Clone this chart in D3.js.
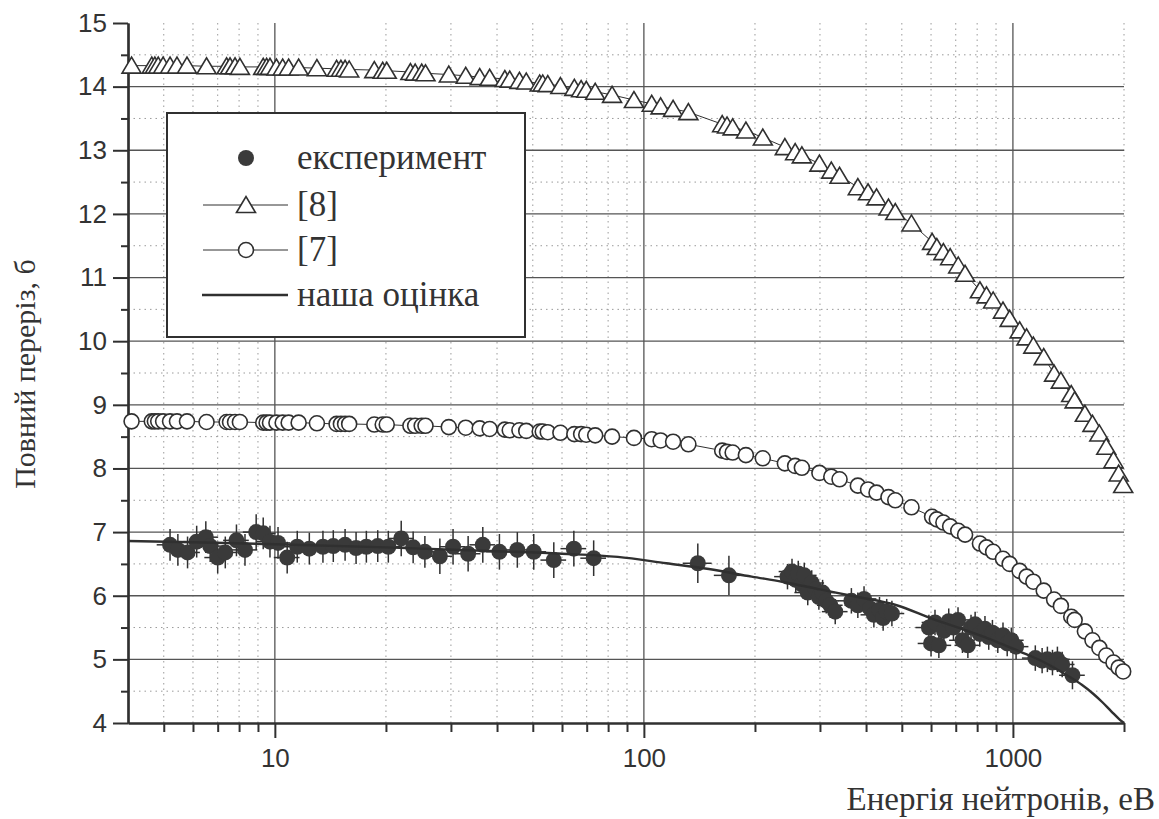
<!DOCTYPE html>
<html>
<head>
<meta charset="utf-8">
<script src="https://cdnjs.cloudflare.com/ajax/libs/d3/7.8.5/d3.min.js"></script>
<style>
  body { margin: 0; background: #fff; }
  svg { display: block; }
  .tick text { font-family: "Liberation Sans", Arial, sans-serif; font-size: 26px; fill: #333; }
</style>
</head>
<body>
<svg id="chart" width="1159" height="819"></svg>
<script>
// energies (eV) of the two evaluated curves [8] and [7]
var theoryE = [4.09, 4.64, 4.73, 4.83, 4.98, 5.2, 5.43, 5.78, 6.53, 7.4, 7.56, 7.8, 8.04, 9.3, 9.5, 9.7, 10.1, 10.5, 10.9, 11.6,
  13.0, 14.7, 15.1, 15.5, 15.9, 18.6, 19.6, 20.1, 23.3, 24.0, 25.0, 25.6, 29.6, 32.9, 35.9, 38.2, 42.0, 43.3, 46, 48,
  52.2, 53.2, 54.9, 59.4, 64.8, 67.6, 69.8, 73.8, 82, 94, 105, 111, 120, 132, 163, 168, 174, 189, 210, 241,
  257, 268, 299, 322, 339, 380, 405, 427, 460, 480, 531, 604, 622, 648, 676, 711, 742, 814, 848, 884,
  940, 980, 1043, 1089, 1136, 1212, 1293, 1349, 1439, 1470, 1567, 1643, 1715, 1790, 1873, 1934, 1990];

// [8]
var sigma8 = [14.33, 14.33, 14.33, 14.33, 14.33, 14.33, 14.33, 14.33, 14.32, 14.32, 14.32, 14.32, 14.31, 14.31, 14.31, 14.31, 14.3, 14.3, 14.3, 14.3,
  14.29, 14.28, 14.28, 14.28, 14.27, 14.26, 14.25, 14.25, 14.23, 14.22, 14.22, 14.21, 14.19, 14.17, 14.15, 14.14, 14.12, 14.11, 14.09, 14.08,
  14.05, 14.05, 14.04, 14.01, 13.98, 13.96, 13.95, 13.92, 13.87, 13.79, 13.73, 13.69, 13.65, 13.6, 13.41, 13.39, 13.36, 13.31, 13.2, 13.05,
  12.97, 12.92, 12.79, 12.68, 12.6, 12.42, 12.34, 12.26, 12.1, 12.03, 11.85, 11.56, 11.48, 11.4, 11.32, 11.19, 11.06, 10.8, 10.72, 10.64,
  10.48, 10.35, 10.17, 10.06, 9.93, 9.75, 9.49, 9.38, 9.17, 9.07, 8.86, 8.7, 8.55, 8.34, 8.13, 7.92, 7.74];

// [7]
var sigma7 = [8.74, 8.74, 8.74, 8.74, 8.74, 8.74, 8.74, 8.74, 8.73, 8.73, 8.73, 8.73, 8.73, 8.72, 8.72, 8.72, 8.72, 8.72, 8.72, 8.72,
  8.71, 8.7, 8.7, 8.7, 8.7, 8.69, 8.69, 8.69, 8.67, 8.67, 8.67, 8.67, 8.65, 8.64, 8.63, 8.62, 8.61, 8.6, 8.6, 8.59,
  8.58, 8.58, 8.57, 8.56, 8.54, 8.54, 8.53, 8.52, 8.5, 8.48, 8.46, 8.44, 8.42, 8.38, 8.28, 8.26, 8.25, 8.21, 8.16, 8.08,
  8.04, 8.01, 7.93, 7.87, 7.83, 7.73, 7.67, 7.62, 7.55, 7.5, 7.39, 7.24, 7.2, 7.15, 7.09, 7.02, 6.96, 6.82, 6.76, 6.69,
  6.58, 6.5, 6.39, 6.3, 6.22, 6.08, 5.94, 5.84, 5.67, 5.62, 5.44, 5.3, 5.18, 5.06, 4.95, 4.87, 4.81];

// experiment: energy, cross section, error of sigma, relative error of energy
var expE = [5.2, 5.46, 5.8, 6.14, 6.5, 6.68, 7.0, 7.34, 7.87, 8.3, 8.9, 9.3, 9.7, 10.2, 10.8, 11.5, 12.4, 13.5, 14.4, 15.5,
  16.6, 17.7, 19.0, 20.3, 22.0, 23.7, 25.5, 28.0, 30.4, 33.4, 36.6, 40.6, 45.4, 50.3, 57, 64.6, 73.1, 140, 170,
  245, 252, 258, 262, 268, 272, 278, 285, 292, 298, 305, 312, 320, 330,
  365, 380, 395, 410, 420, 435, 445, 455, 470,
  592, 600, 615, 630, 650, 670, 690, 710, 730, 755, 770, 790, 813, 840, 860, 880, 910, 940, 965, 990, 1020,
  1150, 1200, 1240, 1280, 1320, 1360, 1450];
var expS = [6.8, 6.72, 6.68, 6.85, 6.92, 6.78, 6.6, 6.68, 6.87, 6.72, 7.0, 6.98, 6.85, 6.83, 6.6, 6.77, 6.74, 6.77, 6.78, 6.8,
  6.75, 6.77, 6.78, 6.77, 6.9, 6.76, 6.69, 6.62, 6.77, 6.66, 6.8, 6.69, 6.72, 6.69, 6.56, 6.74, 6.59, 6.51, 6.32,
  6.3, 6.38, 6.25, 6.35, 6.18, 6.32, 6.05, 6.2, 6.1, 5.98, 6.05, 5.92, 5.85, 5.75,
  5.92, 5.85, 5.95, 5.8, 5.7, 5.78, 5.65, 5.75, 5.72,
  5.5, 5.25, 5.58, 5.22, 5.45, 5.6, 5.5, 5.62, 5.3, 5.22, 5.5, 5.55, 5.4, 5.48, 5.35, 5.42, 5.3, 5.38, 5.25, 5.3, 5.2,
  5.02, 4.98, 5.0, 4.95, 5.0, 4.92, 4.75];
var expErrS = [0.25, 0.25, 0.25, 0.25, 0.25, 0.25, 0.25, 0.25, 0.25, 0.25, 0.28, 0.25, 0.25, 0.25, 0.25, 0.25, 0.25, 0.25, 0.25, 0.25,
  0.25, 0.25, 0.25, 0.25, 0.28, 0.25, 0.25, 0.28, 0.28, 0.28, 0.28, 0.28, 0.28, 0.28, 0.28, 0.28, 0.28, 0.31, 0.31,
  0.2, 0.2, 0.2, 0.2, 0.2, 0.2, 0.2, 0.2, 0.2, 0.2, 0.2, 0.2, 0.2, 0.2,
  0.2, 0.2, 0.2, 0.2, 0.2, 0.2, 0.2, 0.2, 0.2,
  0.2, 0.2, 0.2, 0.2, 0.2, 0.2, 0.2, 0.2, 0.2, 0.2, 0.2, 0.2, 0.2, 0.2, 0.2, 0.2, 0.2, 0.2, 0.2, 0.2, 0.2,
  0.2, 0.2, 0.2, 0.2, 0.2, 0.2, 0.22];
var expErrE = [0.08, 0.08, 0.08, 0.08, 0.08, 0.08, 0.08, 0.08, 0.08, 0.08, 0.08, 0.08, 0.08, 0.08, 0.08, 0.08, 0.08, 0.08, 0.08, 0.08,
  0.08, 0.08, 0.08, 0.08, 0.08, 0.08, 0.08, 0.08, 0.08, 0.08, 0.08, 0.08, 0.08, 0.08, 0.08, 0.08, 0.08, 0.09, 0.09,
  0.08, 0.08, 0.08, 0.08, 0.08, 0.08, 0.08, 0.08, 0.08, 0.08, 0.08, 0.08, 0.08, 0.08,
  0.08, 0.08, 0.08, 0.08, 0.08, 0.08, 0.08, 0.08, 0.08,
  0.08, 0.08, 0.08, 0.08, 0.08, 0.08, 0.08, 0.08, 0.08, 0.08, 0.08, 0.08, 0.08, 0.08, 0.08, 0.08, 0.08, 0.08, 0.08, 0.08, 0.08,
  0.08, 0.08, 0.08, 0.08, 0.08, 0.08, 0.08];

// "наша оцінка" curve
var ourE = [4, 6, 10, 20, 40, 60, 85, 115, 150, 196, 237, 300, 380, 484, 603, 750, 900, 1037, 1200, 1400, 1537, 1650, 1745, 1850, 1950, 2000];
var ourS = [6.86, 6.84, 6.81, 6.76, 6.7, 6.66, 6.61, 6.51, 6.42, 6.3, 6.22, 6.1, 5.98, 5.85, 5.64, 5.45, 5.28, 5.13, 4.97, 4.75, 4.6, 4.46, 4.33, 4.18, 4.05, 4.0];

// axes
var xMajorTicks = [10, 100, 1000];
var xMinorTicks = [5, 6, 7, 8, 9, 20, 30, 40, 50, 60, 70, 80, 90, 200, 300, 400, 500, 600, 700, 800, 900, 2000];
var yTicks = [4, 5, 6, 7, 8, 9, 10, 11, 12, 13, 14, 15];
var yMinorTicks = [4.5, 5.5, 6.5, 7.5, 8.5, 9.5, 10.5, 11.5, 12.5, 13.5, 14.5];

var legendLabels = ["експеримент", "[8]", "[7]", "наша оцінка"];

var ink = "#303030";
var serif = "Liberation Serif";
var margin = { top: 23, right: 35, bottom: 96, left: 128 };
var width = 1159 - margin.left - margin.right;
var height = 819 - margin.top - margin.bottom;

var x = d3.scaleLog().domain([4, 2000]).range([0, width]);
var y = d3.scaleLinear().domain([4, 15]).range([height, 0]);

var svg = d3.select("#chart");
var g = svg.append("g").attr("transform", "translate(" + margin.left + "," + margin.top + ")");

/* grid */
g.append("g").selectAll("line").data(xMinorTicks).enter().append("line")
  .attr("x1", function(d) { return x(d); }).attr("x2", function(d) { return x(d); })
  .attr("y1", 0).attr("y2", height)
  .attr("stroke", "#9a9a9a").attr("stroke-width", 1).attr("stroke-dasharray", "1.5,4");
g.append("g").selectAll("line").data(yMinorTicks).enter().append("line")
  .attr("x1", 0).attr("x2", width)
  .attr("y1", function(d) { return y(d); }).attr("y2", function(d) { return y(d); })
  .attr("stroke", "#9a9a9a").attr("stroke-width", 1).attr("stroke-dasharray", "1.5,4");
g.append("g").selectAll("line").data(xMajorTicks).enter().append("line")
  .attr("x1", function(d) { return x(d); }).attr("x2", function(d) { return x(d); })
  .attr("y1", 0).attr("y2", height)
  .attr("stroke", "#555").attr("stroke-width", 1.3);
g.append("g").selectAll("line").data(yTicks.slice(1, -1)).enter().append("line")
  .attr("x1", 0).attr("x2", width)
  .attr("y1", function(d) { return y(d); }).attr("y2", function(d) { return y(d); })
  .attr("stroke", "#555").attr("stroke-width", 1.3);

/* axes */
var xAxis = d3.axisBottom(x).tickValues(xMajorTicks).tickSize(15).tickSizeOuter(0).tickPadding(11)
  .tickFormat(d3.format("d"));
var xAxisMinor = d3.axisBottom(x).tickValues(xMinorTicks).tickSize(9).tickSizeOuter(0).tickFormat("");
var yAxis = d3.axisLeft(y).tickValues(yTicks).tickSize(15).tickSizeOuter(0).tickPadding(6);
var yAxisMinor = d3.axisLeft(y).tickValues(yMinorTicks).tickSize(7).tickSizeOuter(0).tickFormat("");

[[xAxisMinor, true], [xAxis, true], [yAxisMinor, false], [yAxis, false]].forEach(function(a) {
  var ax = g.append("g")
    .attr("transform", a[1] ? "translate(0," + height + ")" : null)
    .call(a[0]);
  ax.attr("font-family", null).attr("font-size", null);
  ax.select(".domain").attr("stroke", ink).attr("stroke-width", 2.2);
  ax.selectAll(".tick line").attr("stroke", ink).attr("stroke-width", 2);
});

/* [8] and [7] curves */
var pts8 = theoryE.map(function(e, i) { return [e, sigma8[i]]; });
var pts7 = theoryE.map(function(e, i) { return [e, sigma7[i]]; });
var line = d3.line().x(function(d) { return x(d[0]); }).y(function(d) { return y(d[1]); });

var triPath = function(cx, cy) {
  return "M" + (cx - 9.5) + "," + (cy + 7.5) + "L" + cx + "," + (cy - 8.5) + "L" + (cx + 9.5) + "," + (cy + 7.5) + "Z";
};

g.append("path").datum(pts8).attr("d", line).attr("fill", "none").attr("stroke", ink).attr("stroke-width", 1);
g.append("path").datum(pts7).attr("d", line).attr("fill", "none").attr("stroke", ink).attr("stroke-width", 1);

g.append("g").selectAll("path").data(pts8).enter().append("path")
  .attr("d", function(d) { return triPath(x(d[0]), y(d[1])); })
  .attr("fill", "#fff").attr("stroke", ink).attr("stroke-width", 1.6);

g.append("g").selectAll("circle").data(pts7).enter().append("circle")
  .attr("cx", function(d) { return x(d[0]); }).attr("cy", function(d) { return y(d[1]); })
  .attr("r", 7.5).attr("fill", "#fff").attr("stroke", ink).attr("stroke-width", 1.6);

/* experiment with error bars */
var expData = expE.map(function(e, i) {
  return { e: e, s: expS[i], ds: expErrS[i], de: expErrE[i] };
});
var bars = g.append("g").attr("stroke", ink).attr("stroke-width", 1.5);
bars.selectAll(".ev").data(expData).enter().append("line")
  .attr("x1", function(d) { return x(d.e); }).attr("x2", function(d) { return x(d.e); })
  .attr("y1", function(d) { return y(d.s - d.ds); }).attr("y2", function(d) { return y(d.s + d.ds); });
bars.selectAll(".eh").data(expData).enter().append("line")
  .attr("x1", function(d) { return x(d.e * (1 - d.de)); }).attr("x2", function(d) { return x(d.e * (1 + d.de)); })
  .attr("y1", function(d) { return y(d.s); }).attr("y2", function(d) { return y(d.s); });
g.append("g").selectAll("circle").data(expData).enter().append("circle")
  .attr("cx", function(d) { return x(d.e); }).attr("cy", function(d) { return y(d.s); })
  .attr("r", 8).attr("fill", "#3a3a3a");

/* our estimate */
var ourPts = ourE.map(function(e, i) { return [e, ourS[i]]; });
g.append("path").datum(ourPts)
  .attr("d", line.curve(d3.curveMonotoneX))
  .attr("fill", "none").attr("stroke", ink).attr("stroke-width", 2.4);

/* legend */
var lg = svg.append("g").attr("transform", "translate(167,113)");
lg.append("rect").attr("width", 358).attr("height", 224)
  .attr("fill", "#fff").attr("stroke", ink).attr("stroke-width", 2);
var rowY = [45, 92, 137, 182];
lg.append("circle").attr("cx", 79).attr("cy", rowY[0]).attr("r", 8).attr("fill", "#3a3a3a");
[1, 2].forEach(function(k) {
  lg.append("line").attr("x1", 36).attr("x2", 121).attr("y1", rowY[k]).attr("y2", rowY[k])
    .attr("stroke", ink).attr("stroke-width", 1);
});
lg.append("path").attr("d", triPath(79, rowY[1])).attr("fill", "#fff").attr("stroke", ink).attr("stroke-width", 1.6);
lg.append("circle").attr("cx", 79).attr("cy", rowY[2]).attr("r", 7.5)
  .attr("fill", "#fff").attr("stroke", ink).attr("stroke-width", 1.6);
lg.append("line").attr("x1", 35).attr("x2", 121).attr("y1", rowY[3]).attr("y2", rowY[3])
  .attr("stroke", ink).attr("stroke-width", 2.4);
lg.selectAll("text").data(legendLabels).enter().append("text")
  .attr("x", 130)
  .attr("y", function(d, i) { return rowY[i] + 11; })
  .attr("font-family", serif)
  .attr("font-size", 35)
  .attr("fill", "#333")
  .text(function(d) { return d; });

/* axis titles */
svg.append("text")
  .attr("transform", "translate(35,374) rotate(-90)")
  .attr("text-anchor", "middle")
  .attr("font-family", serif)
  .attr("font-size", 30)
  .attr("fill", "#333")
  .text("Повний переріз, б");
svg.append("text")
  .attr("x", 1155).attr("y", 810)
  .attr("text-anchor", "end")
  .attr("font-family", serif)
  .attr("font-size", 33)
  .attr("fill", "#333")
  .text("Енергія нейтронів, еВ");
</script>
</body>
</html>
